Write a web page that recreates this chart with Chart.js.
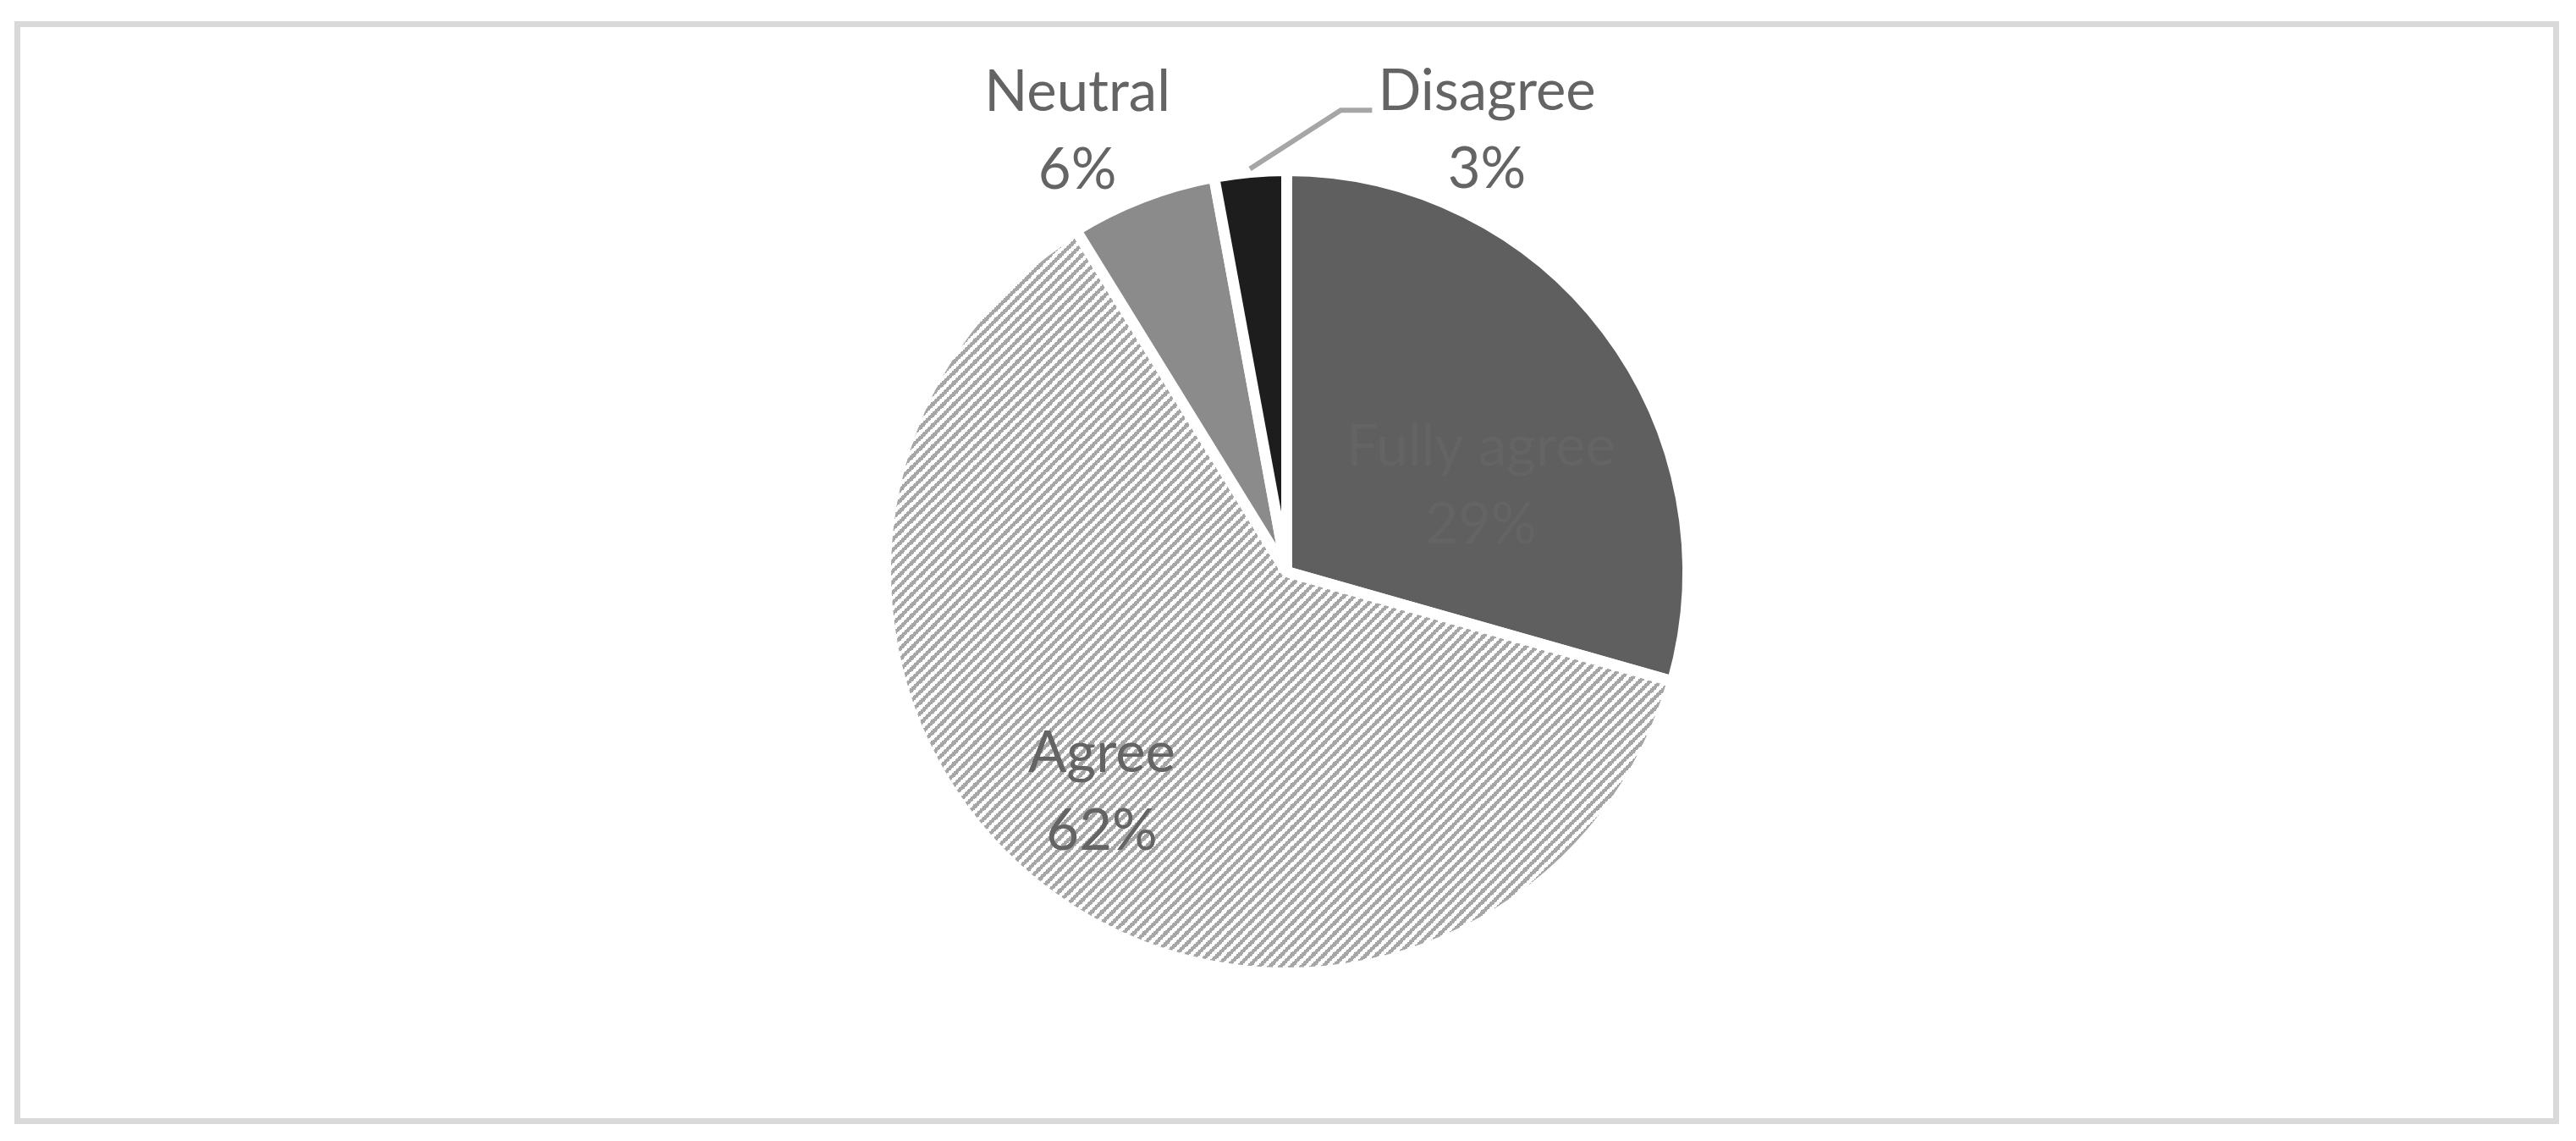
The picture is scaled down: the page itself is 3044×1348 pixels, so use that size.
<!DOCTYPE html>
<html>
<head>
<meta charset="utf-8">
<script src="https://cdn.jsdelivr.net/npm/chart.js@4.4.0/dist/chart.umd.min.js"></script>
<style>
  html, body { margin: 0; padding: 0; background: #fff; }
  #wrap { position: relative; width: 3044px; height: 1348px; }
  #pie { position: absolute; left: 0; top: 0; }
  #frame { position: absolute; left: 17px; top: 25px; width: 3007px; height: 1303px; border: 7px solid #d9d9d9; box-sizing: border-box; }
</style>
</head>
<body>
<div id="wrap">
  <canvas id="pie" width="3044" height="1348"></canvas>
  <div id="frame"></div>
</div>
<script>
// survey answers, share of respondents in %
const categories = ["Fully agree", "Agree", "Neutral", "Disagree"];
const shares = [29.4, 61.8, 5.9, 2.9];

// label spot for each slice, in radii from the pie centre
const labelPlacement = [[0.484, -0.218], [-0.461, 0.545], [-0.522, -1.102], [0.499, -1.104]];
const hasLeader = [false, false, false, true];

const canvas = document.getElementById("pie");
const ctx = canvas.getContext("2d");

// grey wide upward diagonal hatch for "Agree" (8x8 bitmap, scaled up)
function hatch() {
  const tile = document.createElement("canvas");
  tile.width = 25;
  tile.height = 25;
  const t = tile.getContext("2d");
  t.fillStyle = "#ffffff";
  t.fillRect(0, 0, 25, 25);
  t.fillStyle = "#a6a6a6";
  for (let y = 0; y < 25; y++) {
    for (let x = 0; x < 25; x++) {
      const i = Math.floor(x / 1.5625);
      const j = Math.floor(y / 1.5625);
      if ((i + j) % 8 < 4) t.fillRect(x, y, 1, 1);
    }
  }
  return ctx.createPattern(tile, "repeat");
}

const sliceColors = ["#5f5f5f", hatch(), "#8b8b8b", "#1d1d1d"];

const sliceLabels = {
  id: "sliceLabels",
  afterDatasetsDraw(chart) {
    const c = chart.ctx;
    const arcs = chart.getDatasetMeta(0).data;
    c.save();
    c.font = "67px Lato";
    c.fillStyle = "#646464";
    c.textAlign = "center";
    c.textBaseline = "alphabetic";
    arcs.forEach((arc, i) => {
      const { x, y, outerRadius, startAngle, endAngle } = arc.getProps(["x", "y", "outerRadius", "startAngle", "endAngle"], true);
      const lx = x + labelPlacement[i][0] * outerRadius;
      const ly = y + labelPlacement[i][1] * outerRadius;
      const pct = Math.round(shares[i]) + "%";
      c.fillText(categories[i], lx, ly - 22);
      c.fillText(pct, lx, ly + 70);

      if (hasLeader[i]) {
        const mid = (startAngle + endAngle) / 2;
        const sx = x + Math.cos(mid) * (outerRadius + 4);
        const sy = y + Math.sin(mid) * (outerRadius + 4);
        const w = Math.max(c.measureText(categories[i]).width, c.measureText(pct).width);
        const ex = lx - w / 2 - 7;
        const ey = ly - 22;
        c.strokeStyle = "#a6a6a6";
        c.lineWidth = 6;
        c.beginPath();
        c.moveTo(sx, sy);
        c.lineTo(ex - 37, ey);
        c.lineTo(ex, ey);
        c.stroke();
      }
    });
    c.restore();
  }
};

new Chart(ctx, {
  type: "pie",
  data: {
    labels: categories,
    datasets: [
      {
        data: shares,
        backgroundColor: sliceColors,
        borderColor: "#ffffff",
        borderWidth: 13,
        borderAlign: "center",
      },
    ],
  },
  options: {
    responsive: false,
    devicePixelRatio: 1,
    animation: false,
    radius: 474,
    layout: { padding: { left: 0, right: 3, top: 3, bottom: 0 } },
    plugins: {
      legend: { display: false },
      tooltip: { enabled: false },
    },
    events: [],
  },
  plugins: [sliceLabels],
});
</script>
</body>
</html>
